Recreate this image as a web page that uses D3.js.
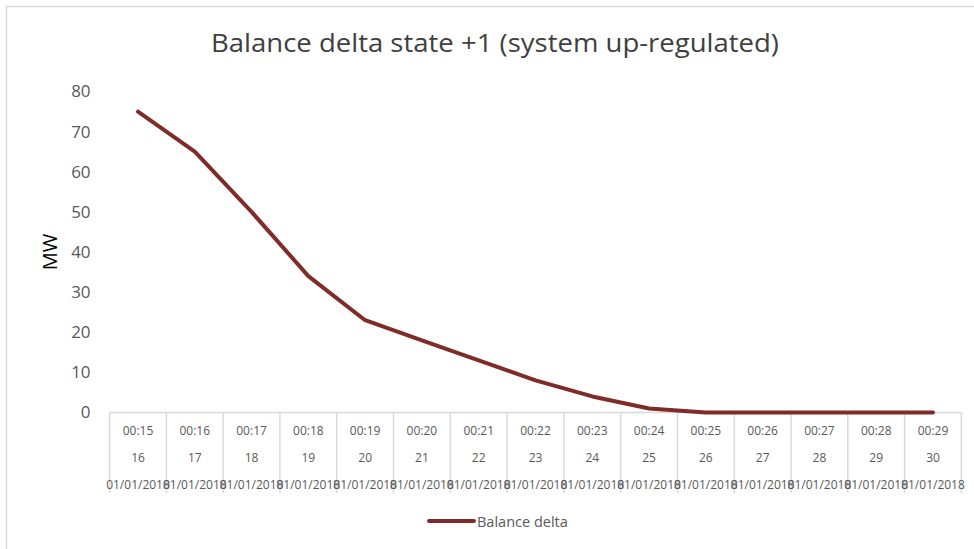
<!DOCTYPE html>
<html>
<head>
<meta charset="utf-8">
<script src="https://cdn.jsdelivr.net/npm/d3@7"></script>
<style>
  html, body { margin: 0; padding: 0; background: #fff; }
  svg { display: block; font-family: "Open Sans", "Noto Sans", sans-serif; }
</style>
</head>
<body>
<svg id="chart" width="974" height="549"></svg>
<script>
// Settlement periods on 01/01/2018
const times = ["00:15","00:16","00:17","00:18","00:19","00:20","00:21","00:22","00:23","00:24","00:25","00:26","00:27","00:28","00:29"];
const periods = ["16","17","18","19","20","21","22","23","24","25","26","27","28","29","30"];
const dates = times.map(() => "01/01/2018");
const balanceDelta = [75, 65, 50, 34, 23, 18, 13, 8, 4, 1, 0, 0, 0, 0, 0];
const yTicks = [0, 10, 20, 30, 40, 50, 60, 70, 80];

const svg = d3.select("#chart");
const W = 974, H = 549;
const plot = { left: 109.6, right: 961.4, top: 91.5, bottom: 412.5 };
const lineColor = "#7f2b28";
const textGrey = "#595959";
const gridGrey = "#d9d9d9";

// chart frame (top and left edges visible)
svg.append("path")
  .attr("d", `M6.5,${H} V6.5 H${W}`)
  .attr("fill", "none")
  .attr("stroke", gridGrey)
  .attr("stroke-width", 1.5);

// title
svg.append("text")
  .attr("x", 495)
  .attr("y", 52)
  .attr("text-anchor", "middle")
  .attr("font-size", 25)
  .attr("textLength", 568)
  .attr("lengthAdjust", "spacingAndGlyphs")
  .attr("fill", "#404040")
  .text("Balance delta state +1 (system up-regulated)");

const idx = d3.range(times.length);
const x = d3.scaleBand().domain(idx).range([plot.left, plot.right]).paddingInner(0).paddingOuter(0);
const y = d3.scaleLinear().domain([0, 80]).range([plot.bottom, plot.top]);

// y axis labels (no axis line)
const yAxis = svg.append("g")
  .attr("transform", `translate(${plot.left},0)`)
  .call(d3.axisLeft(y).tickValues(yTicks).tickSize(0).tickPadding(19));
yAxis.select(".domain").remove();
yAxis.selectAll("text")
  .attr("font-family", "'Open Sans', 'Noto Sans', sans-serif")
  .attr("font-size", 17)
  .attr("fill", textGrey);

// y axis title
svg.append("text")
  .attr("transform", `translate(57,252) rotate(-90)`)
  .attr("text-anchor", "middle")
  .attr("font-size", 20)
  .attr("fill", "#000")
  .text("MW");

// x axis: baseline and category dividers
const xg = svg.append("g");
xg.append("line")
  .attr("x1", plot.left).attr("x2", plot.right)
  .attr("y1", plot.bottom).attr("y2", plot.bottom)
  .attr("stroke", gridGrey).attr("stroke-width", 1.5);
const bounds = idx.map(i => x(i)).concat([x(idx[idx.length - 1]) + x.bandwidth()]);
xg.selectAll("line.div")
  .data(bounds)
  .join("line")
  .attr("class", "div")
  .attr("x1", d => d).attr("x2", d => d)
  .attr("y1", plot.bottom).attr("y2", 493)
  .attr("stroke", gridGrey).attr("stroke-width", 1.5);

// three rows of category labels
const rows = [
  { labels: times, y: 435 },
  { labels: periods, y: 461.5 },
  { labels: dates, y: 488.5 }
];
rows.forEach(r => {
  xg.selectAll(null)
    .data(idx)
    .join("text")
    .attr("x", i => x(i) + x.bandwidth() / 2)
    .attr("y", r.y)
    .attr("text-anchor", "middle")
    .attr("font-size", 12)
    .attr("fill", textGrey)
    .text(i => r.labels[i]);
});

// data line
const line = d3.line()
  .x((d, i) => x(i) + x.bandwidth() / 2)
  .y(d => y(d));
svg.append("path")
  .datum(balanceDelta)
  .attr("d", line)
  .attr("fill", "none")
  .attr("stroke", lineColor)
  .attr("stroke-width", 4)
  .attr("stroke-linejoin", "round")
  .attr("stroke-linecap", "round");

// legend
const lg = svg.append("g").attr("transform", "translate(0,521)");
lg.append("line")
  .attr("x1", 429).attr("x2", 474)
  .attr("y1", 0).attr("y2", 0)
  .attr("stroke", lineColor).attr("stroke-width", 4)
  .attr("stroke-linecap", "round");
lg.append("text")
  .attr("x", 477).attr("y", 5.5)
  .attr("font-size", 14.5)
  .attr("fill", textGrey)
  .text("Balance delta");
</script>
</body>
</html>
